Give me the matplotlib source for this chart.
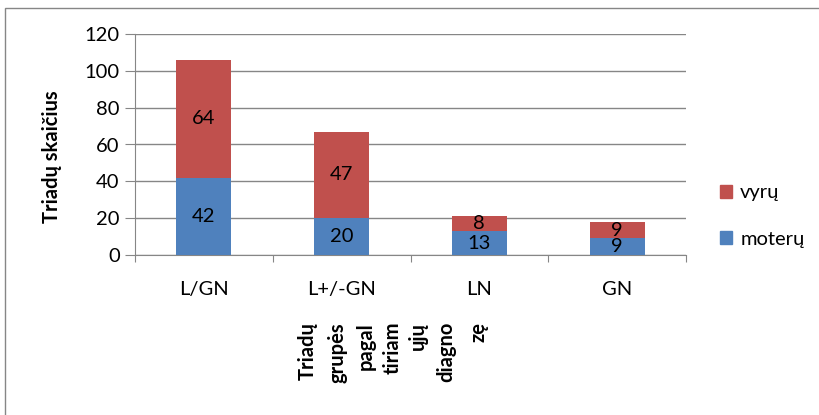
import matplotlib
matplotlib.use('Agg')

import matplotlib.pyplot as plt
from matplotlib.patches import Rectangle, Patch
import numpy as np

groups = ['L/GN', 'L+/-GN', 'LN', 'GN']
moteru = [42, 20, 13, 9]
vyru = [64, 47, 8, 9]
xlabel_words = ['Triadų', 'grupės', 'pagal', 'tiriam', 'ųjų', 'diagno', 'zę']

plt.rcParams['font.family'] = ['Lato', 'DejaVu Sans']
blue = '#4F81BD'
red = '#C0504D'
grey = '#868686'
fs = 14.5

fig = plt.figure(figsize=(8.19, 4.15), dpi=100)
ax = fig.add_axes([135/819, 1-255/415, 551/819, 221/415])

x = np.arange(len(groups))
b1 = ax.bar(x, moteru, width=0.4, color=blue, zorder=3)
b2 = ax.bar(x, vyru, width=0.4, bottom=moteru, color=red, zorder=3)
for rect, v in zip(b1, moteru):
	ax.text(rect.get_x()+rect.get_width()/2, rect.get_y()+rect.get_height()/2, str(v),
		ha='center', va='center', fontsize=fs, color='black', zorder=4)
for rect, v in zip(b2, vyru):
	ax.text(rect.get_x()+rect.get_width()/2, rect.get_y()+rect.get_height()/2, str(v),
		ha='center', va='center', fontsize=fs, color='black', zorder=4)

ax.set_xlim(-0.5, len(groups)-0.5)
ax.set_ylim(0, 120)
ax.set_yticks(np.arange(0, 121, 20))
ax.yaxis.grid(True, color=grey, linewidth=1, zorder=0)
ax.set_xticks(np.arange(-0.5, len(groups), 1.0))
ax.set_xticklabels([])
ax.set_xticks(x, minor=True)
ax.set_xticklabels(groups, minor=True)
ax.tick_params(axis='x', which='minor', length=0, pad=19, labelsize=fs)
ax.tick_params(axis='x', which='major', length=5, color=grey, direction='out')
ax.tick_params(axis='y', length=7, color=grey, labelsize=fs, pad=4)
for s in ['top', 'right']:
	ax.spines[s].set_visible(False)
for s in ['left', 'bottom']:
	ax.spines[s].set_color(grey)

fig.text(52/819, 1-157/415, 'Triadų skaičius', rotation=90, ha='center', va='center',
	fontsize=fs, fontweight='bold')

xs = [308, 338, 366, 393, 418, 446, 478]
for xp, w in zip(xs, xlabel_words):
	fig.text(xp/819, 1-322/415, w, rotation=90, ha='center', va='top',
		fontsize=fs, fontweight='bold')

handles = [Patch(color=red), Patch(color=blue)]
fig.legend(handles, ['vyrų', 'moterų'], loc='center left', bbox_to_anchor=(702/819, 1-216/415),
	frameon=False, fontsize=fs, labelspacing=1.45, handlelength=0.6, handleheight=0.6,
	handletextpad=0.4)

fig.patches.append(Rectangle((5/819, -0.2), 1.2, 0.2+(1-8/415), transform=fig.transFigure,
	fill=False, edgecolor=grey, linewidth=1))

plt.savefig('out.png')
